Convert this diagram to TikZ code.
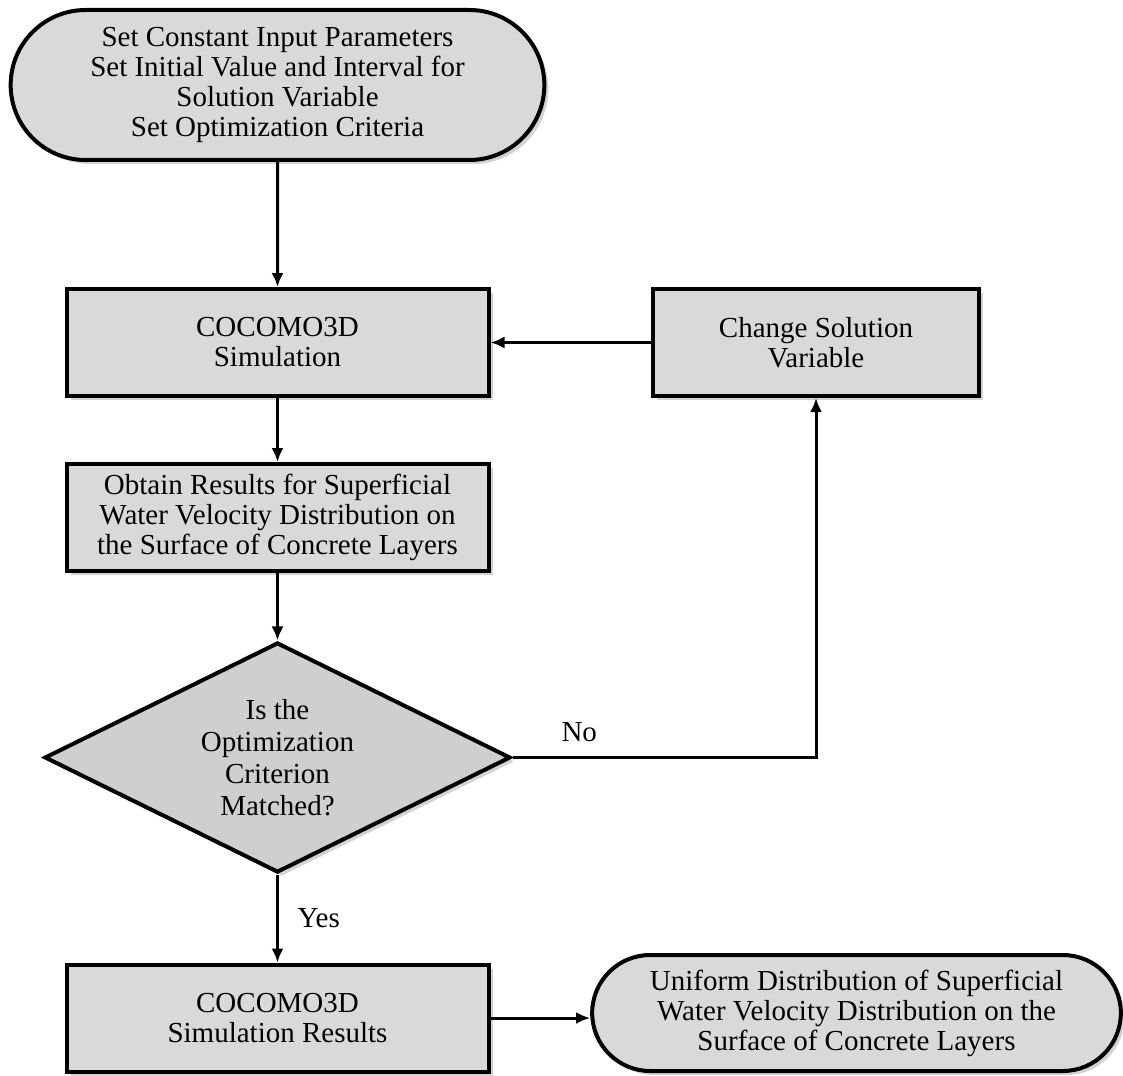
\documentclass[tikz,border=0pt]{standalone}
\usepackage{fontspec}
\setmainfont{Liberation Serif}
\usepackage{tikz}
\usetikzlibrary{arrows.meta, shapes.geometric, shapes.misc, shadows, positioning}

\definecolor{boxgray}{RGB}{217,217,217}
\definecolor{diagray}{RGB}{208,206,206}

\begin{document}
\begin{tikzpicture}[->,>={Latex[length=7pt,width=6pt]},node distance=1.5cm,line width=1.5pt]
                \tikzset{every node/.style={font=\fontsize{14.5}{15}\selectfont, align=center}}
                \tikzset{block/.style={draw, line width=2pt, fill=boxgray, minimum width=211pt, minimum height=53.5pt,
                    drop shadow={shadow xshift=2pt, shadow yshift=-2pt, opacity=0.35}}}
                \tikzset{terminal/.style={block, rounded rectangle}}
                \tikzset{decision/.style={block, diamond, fill=diagray, aspect=2, inner sep=0pt}}
                \useasboundingbox (0,0) rectangle (561.5pt,-537.5pt);
                \node[terminal, minimum width=273.5pt, minimum height=75pt] (start) at (138.75pt,-42.5pt)
                    {Set Constant Input Parameters\\Set Initial Value and Interval for\\Solution Variable\\Set Optimization Criteria};
                \node[block] (sim) [below of=start, node distance=128.75pt] {COCOMO3D\\Simulation};
                \node[block, minimum width=163pt] (change) [right of=sim, node distance=269.25pt] {Change Solution\\Variable};
                \node[block] (obtain) [below of=sim, node distance=87.5pt]
                    {Obtain Results for Superficial\\Water Velocity Distribution on\\the Surface of Concrete Layers};
                \node[decision, minimum width=233pt, minimum height=115pt, font=\fontsize{14.5}{16}\selectfont] (decide)
                    [below of=obtain, node distance=120pt] {Is the\\Optimization\\Criterion\\Matched?};
                \node[block] (results) [below of=decide, node distance=130.25pt] {COCOMO3D\\Simulation Results};
                \node[terminal, minimum width=271pt, minimum height=58pt] (final) [right of=results, node distance=289.5pt, yshift=2.5pt]
                    {Uniform Distribution of Superficial\\Water Velocity Distribution on the\\Surface of Concrete Layers};
                \path (start) edge              node {} (sim);
                \path (change) edge              node {} (sim);
                \path (sim) edge              node {} (obtain);
                \path (obtain) edge              node {} (decide);
                \draw (decide.east) -| node[pos=0.11, above=4pt] {No} (change.south);
                \path (decide) edge              node[right, xshift=6pt] {Yes} (results);
                \draw (results.east) -- (results.east -| final.west);
            \end{tikzpicture}
\end{document}
